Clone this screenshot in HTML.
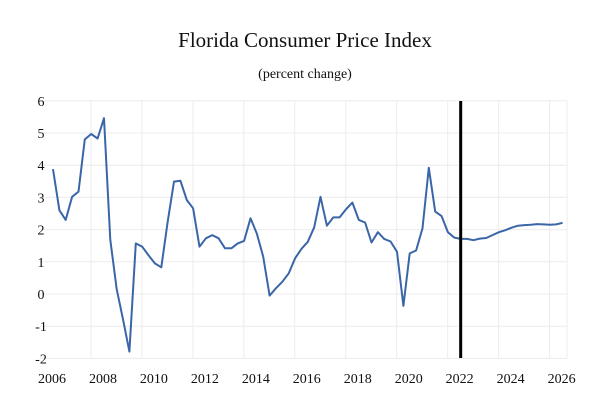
<!DOCTYPE html>
<html><head><meta charset="utf-8"><style>
body{margin:0;background:#fff;}
svg{display:block;font-family:"Liberation Serif",serif;}
</style></head><body>
<svg width="608" height="408" viewBox="0 0 608 408">
<text x="305" y="47" text-anchor="middle" font-size="21" fill="#111">Florida Consumer Price Index</text>
<text x="305" y="78" text-anchor="middle" font-size="14" fill="#111">(percent change)</text>
<g id="grid"></g><g id="axes"></g><g id="series"></g>
</svg>
<script>
const yTicks=[-2,-1,0,1,2,3,4,5,6];
const xTickLabels=[2006,2008,2010,2012,2014,2016,2018,2020,2022,2024,2026];
const startYear=2006;
const forecastStart=2022;
const cpi=[3.88,2.6,2.3,3.02,3.18,4.8,4.97,4.83,5.46,1.68,0.15,-0.8,-1.79,1.57,1.47,1.2,0.95,0.83,2.25,3.49,3.52,2.92,2.66,1.47,1.73,1.83,1.73,1.42,1.42,1.57,1.65,2.35,1.88,1.16,-0.05,0.18,0.38,0.64,1.11,1.4,1.62,2.07,3.02,2.12,2.38,2.38,2.63,2.84,2.3,2.22,1.6,1.92,1.71,1.63,1.31,-0.37,1.26,1.35,2.04,3.92,2.56,2.42,1.92,1.75,1.71,1.71,1.67,1.72,1.74,1.83,1.92,1.98,2.06,2.12,2.14,2.15,2.17,2.16,2.15,2.16,2.21];
const NS="http://www.w3.org/2000/svg";
const xs=y=>53+(y-startYear)*25.48;
const ys=v=>294-v*32.2;
function mk(t,a,p){const e=document.createElementNS(NS,t);for(const k in a)e.setAttribute(k,a[k]);p.appendChild(e);return e;}
const grid=document.getElementById('grid'),axes=document.getElementById('axes'),ser=document.getElementById('series');
yTicks.forEach(v=>{
 const l=mk('line',{x1:40,x2:567,y1:ys(v),y2:ys(v),stroke:'#ececec','stroke-width':1},grid);
 
 
 const t=mk('text',{x:41,y:ys(v)+5,'text-anchor':'middle','font-size':14,fill:'#111'},axes);
 t.textContent=v;
 
 
});
xTickLabels.forEach(yr=>{
 const gx=xs(yr)-13;
 if(gx>45){const l=mk('line',{x1:gx,x2:gx,y1:101,y2:358,stroke:'#ececec','stroke-width':1},grid);
 
 }
 const t=mk('text',{x:xs(yr)-1,y:383,'text-anchor':'middle','font-size':14,fill:'#111'},axes);
 t.textContent=yr;
 
 
});
const re=mk('line',{x1:567,x2:567,y1:101,y2:358,stroke:'#ececec','stroke-width':1},grid);


const pts=cpi.map((v,i)=>xs(startYear+i/4).toFixed(1)+','+ys(v).toFixed(1)).join(' ');
const pl=mk('polyline',{points:pts,fill:'none',stroke:'#3a66a8','stroke-width':2,'stroke-linejoin':'round'},ser);


const fx=xs(forecastStart);
const fl=mk('line',{x1:fx,x2:fx,y1:101,y2:358,stroke:'#000','stroke-width':3},ser);


</script>
</body></html>
